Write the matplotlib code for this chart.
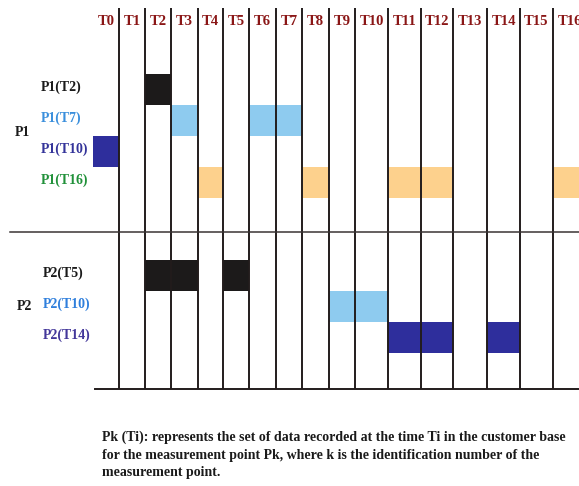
import numpy as np
from matplotlib import pyplot as plt
from matplotlib import transforms

# time slots and the measured sets (row label, colour, filled time slots)
times = ["T%d" % i for i in range(17)]
row_labels = ["P1(T2)", "P1(T7)", "P1(T10)", "P1(T16)", "P2(T5)", "P2(T10)", "P2(T14)"]
row_slots = [0, 1, 2, 3, 6, 7, 8]
row_cells = [[2], [3, 6, 7], [0], [4, 8, 11, 12, 16], [2, 3, 5], [9, 10], [11, 12, 14]]
groups = ["P1", "P2"]
group_rows = [1.9, 7.5]
footnote = [
    "Pk (Ti): represents the set of data recorded at the time Ti in the customer base",
    "for the measurement point Pk, where k is the identification number of the",
    "measurement point.",
]

# colours
label_colors = ["#1a1a1a", "#3a8fdc", "#34349a", "#21913a", "#1a1a1a", "#2f7fdc", "#43379a"]
cell_colors = ["#1c1a1a", "#8ecbef", "#2e2e9c", "#fdd18d", "#1c1a1a", "#8ecbef", "#2e2e9c"]
time_color = "#8a1616"

# the scan has uneven column widths, so the x scale is piecewise linear
col_edges = np.array([93, 119, 145, 171, 198, 223, 249, 276, 302, 329, 355,
                      388, 421, 453, 487, 520, 553, 586], dtype=float)
col_idx = np.arange(len(col_edges), dtype=float)


def fwd(x):
    return np.interp(x, col_idx, col_edges)


def inv(x):
    return np.interp(x, col_edges, col_idx)


W, H = 579, 486
fig = plt.figure(figsize=(W / 100, H / 100), dpi=100)
ax = fig.add_axes([93 / W, 1 - 389 / H, 1 - 93 / W, (389 - 8) / H])
ax.set_xscale('function', functions=(fwd, inv))
ax.set_xlim(0, inv(W))
ax.set_ylim(10.16, -2.13)
ax.axis('off')

font = dict(family='Liberation Serif', fontweight='bold')

for slot, cells, color in zip(row_slots, row_cells, cell_colors):
    ax.broken_barh([(c, 1) for c in cells], (slot, 1), facecolors=color, zorder=1)

ax.vlines(np.arange(1, 17), 10.16, -2.13, colors="#221c1c", linewidth=1.4, zorder=3)
ax.axhline(10.16, xmin=0.004, xmax=1, color="#221c1c", linewidth=1.4, clip_on=False, zorder=3)
ax.axhline(5.1, xmin=(10 - 93) / (W - 93), xmax=1, color="#3a3434", linewidth=1.1,
           clip_on=False, zorder=3)

for i, t in enumerate(times):
    ax.text(i + 0.5, -1.71, t, ha='center', va='center', fontsize=10.5,
            color=time_color, clip_on=False, **font)

trans = transforms.blended_transform_factory(fig.transFigure, ax.transData)
for label, slot, color in zip(row_labels, row_slots, label_colors):
    x = 41 if label.startswith("P1") else 43
    ax.text(x / W, slot + 0.42, label, transform=trans, ha='left', va='center',
            fontsize=10, color=color, **font)

for g, y in zip(groups, group_rows):
    ax.text(15 / W if g == "P1" else 17 / W, y, g, transform=trans, ha='left',
            va='center', fontsize=10, color="#1a1a1a", **font)

for k, line in enumerate(footnote):
    fig.text(102 / W, 1 - (441 + k * 17.5) / H, line, ha='left', va='baseline',
             fontsize=10, color="#1a1a1a", **font)

fig.savefig("out.png", dpi=100)
